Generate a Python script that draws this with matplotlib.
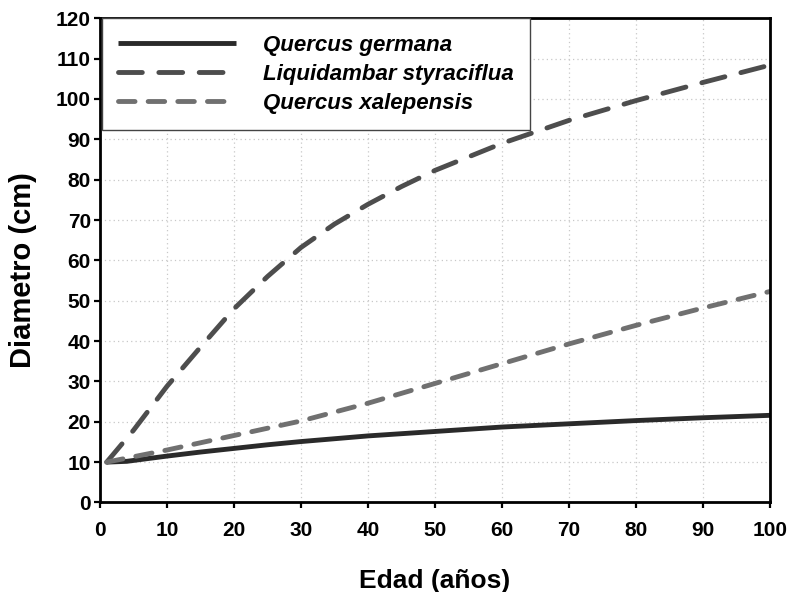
import matplotlib
matplotlib.use("Agg")
import matplotlib.pyplot as plt

plt.rcParams['font.family'] = ['Liberation Sans', 'DejaVu Sans']

edad = [1, 4, 10, 15, 20, 25, 30, 40, 50, 60, 70, 80, 90, 100]
germana = [10, 10.2, 11.5, 12.5, 13.4, 14.3, 15.1, 16.5, 17.6, 18.7, 19.5, 20.3, 21.0, 21.6]
edad_l = [1, 5, 10, 15, 20, 25, 30, 35, 40, 45, 50, 60, 70, 80, 90, 100]
liquidambar = [10, 17.9, 28.8, 38.5, 48.0, 56.0, 63.2, 69.0, 73.9, 78.3, 82.3, 89.0, 94.7, 99.6, 104.1, 108.4]
edad_x = [1, 10, 20, 30, 40, 50, 60, 70, 80, 90, 100]
xalepensis = [10, 13.0, 16.6, 20.2, 24.6, 29.5, 34.4, 39.3, 43.9, 48.2, 52.3]

labels = ['Quercus germana', 'Liquidambar styraciflua', 'Quercus xalepensis']
xticks = list(range(0, 101, 10))
yticks = list(range(0, 121, 10))

fig = plt.figure(figsize=(7.91, 5.92), dpi=100)
ax = fig.add_axes([0.1264, 0.1512, 0.8470, 0.8179])

lw = 3.5
ax.plot(edad, germana, color='#2a2a2a', lw=lw, label=labels[0], solid_capstyle='butt',
        solid_joinstyle='round')
ax.plot(edad_l, liquidambar, color='#4d4d4d', lw=lw, label=labels[1], dashes=(4.9, 3.4),
        dash_capstyle='round', dash_joinstyle='round')
ax.plot(edad_x, xalepensis, color='#707070', lw=lw, label=labels[2], dashes=(3.4, 2.7),
        dash_capstyle='round', dash_joinstyle='round')

ax.set_xlim(0, 100)
ax.set_ylim(0, 120)
ax.set_xticks(xticks)
ax.set_yticks(yticks)
ax.grid(True, color='#c8c8c8', linestyle=(0, (1, 2.5)), linewidth=0.9)
ax.set_axisbelow(True)
for s in ax.spines.values():
    s.set_linewidth(2.0)
    s.set_color('black')
ax.tick_params(direction='out', length=4.5, width=1.6, labelsize=15)
ax.tick_params(axis='x', pad=9)
ax.tick_params(axis='y', pad=2)
for lab in ax.get_xticklabels() + ax.get_yticklabels():
    lab.set_fontweight('bold')

ax.set_xlabel('Edad (años)', fontsize=19, fontweight='bold', labelpad=21)
ax.set_ylabel('Diametro (cm)', fontsize=21, fontweight='bold')
ax.yaxis.set_label_coords(-0.0945, 0.48)

leg = ax.legend(loc='upper left', bbox_to_anchor=(0.0025, 1.0), frameon=True, fancybox=False,
                edgecolor='#444444', framealpha=1, handlelength=5.3, handletextpad=1.2,
                borderpad=0.75, labelspacing=0.35, borderaxespad=0,
                prop={'family': 'Liberation Sans', 'weight': 'bold', 'style': 'italic', 'size': 16})
leg.get_frame().set_linewidth(1.0)

fig.savefig('out.png', dpi=100)
